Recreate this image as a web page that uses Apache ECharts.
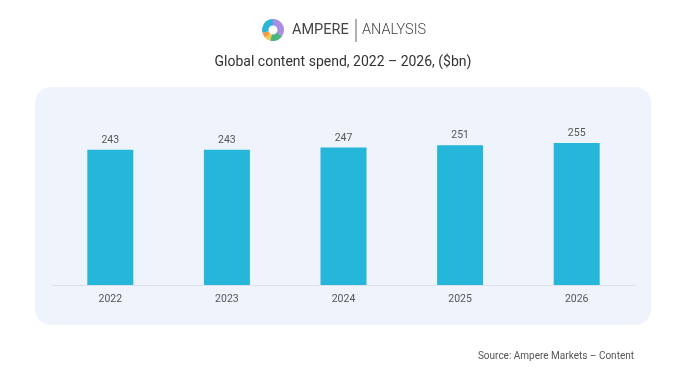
<!DOCTYPE html>
<html>
<head>
<meta charset="utf-8">
<script src="https://cdn.jsdelivr.net/npm/echarts@6/dist/echarts.min.js"></script>
<style>
html,body{margin:0;padding:0;background:#fff;}
#c{width:700px;height:381px;}
</style>
</head>
<body>
<div id="c"></div>
<script>
var categories = ['2022', '2023', '2024', '2025', '2026'];
var spend = [243, 243, 247, 251, 255];
var titleText = 'Global content spend, 2022 \u2013 2026, ($bn)';
var sourceText = 'Source: Ampere Markets \u2013 Content';

var chart = echarts.init(document.getElementById('c'), null, {renderer: 'canvas'});
var cx = 273, cy = 30, r0 = 4.5, r = 11;
function seg(a0, a1, color) {
  return {type: 'sector', shape: {cx: cx, cy: cy, r0: r0, r: r,
    startAngle: (a0 - 90) * Math.PI / 180, endAngle: (a1 - 90) * Math.PI / 180},
    style: {fill: color}, z: 10};
}
var option = {
  backgroundColor: '#ffffff',
  animation: false,
  textStyle: {fontFamily: 'Roboto'},
  graphic: [
    {type: 'rect', shape: {x: 35, y: 87, width: 616, height: 238, r: 16}, style: {fill: '#eff3fb'}, z: -10},
    seg(0, 125, '#a98ce3'),
    seg(125, 195, '#4cb47f'),
    seg(195, 225, '#f2c94c'),
    seg(225, 255, '#f39a3e'),
    seg(255, 360, '#2eb3d8'),
    {type: 'text', style: {x: 292, y: 30, text: 'AMPERE', font: '400 14.5px Roboto', fill: '#444', textVerticalAlign: 'middle'}, z: 10},
    {type: 'rect', shape: {x: 355.5, y: 19, width: 1, height: 23}, style: {fill: '#666'}, z: 10},
    {type: 'text', style: {x: 362, y: 30, text: 'ANALYSIS', font: '300 14.5px Roboto', fill: '#444', textVerticalAlign: 'middle'}, z: 10},
    {type: 'text', style: {x: 343, y: 62, text: titleText, font: '400 14px Roboto', fill: '#333', textAlign: 'center', textVerticalAlign: 'middle'}, z: 10},
    {type: 'text', style: {x: 634, y: 356, text: sourceText, font: '400 10px Roboto', fill: '#555', textAlign: 'right', textVerticalAlign: 'middle'}, z: 10}
  ],
  grid: {left: 52, right: 65, top: 118, bottom: 96, containLabel: false},
  xAxis: {
    type: 'category', data: categories,
    axisLine: {show: true, lineStyle: {color: '#dde2ea', width: 1}},
    axisTick: {show: false},
    axisLabel: {color: '#555', fontSize: 10.5, margin: 9, fontFamily: 'Roboto'}
  },
  yAxis: {type: 'value', min: 0, max: 300, show: false, splitLine: {show: false}},
  series: [{
    type: 'bar', data: spend, barWidth: 46,
    itemStyle: {color: '#25b6da'},
    label: {show: true, position: 'top', color: '#555', fontSize: 10.5, distance: 4, fontFamily: 'Roboto'}
  }]
};
chart.setOption(option);
</script>
</body>
</html>
